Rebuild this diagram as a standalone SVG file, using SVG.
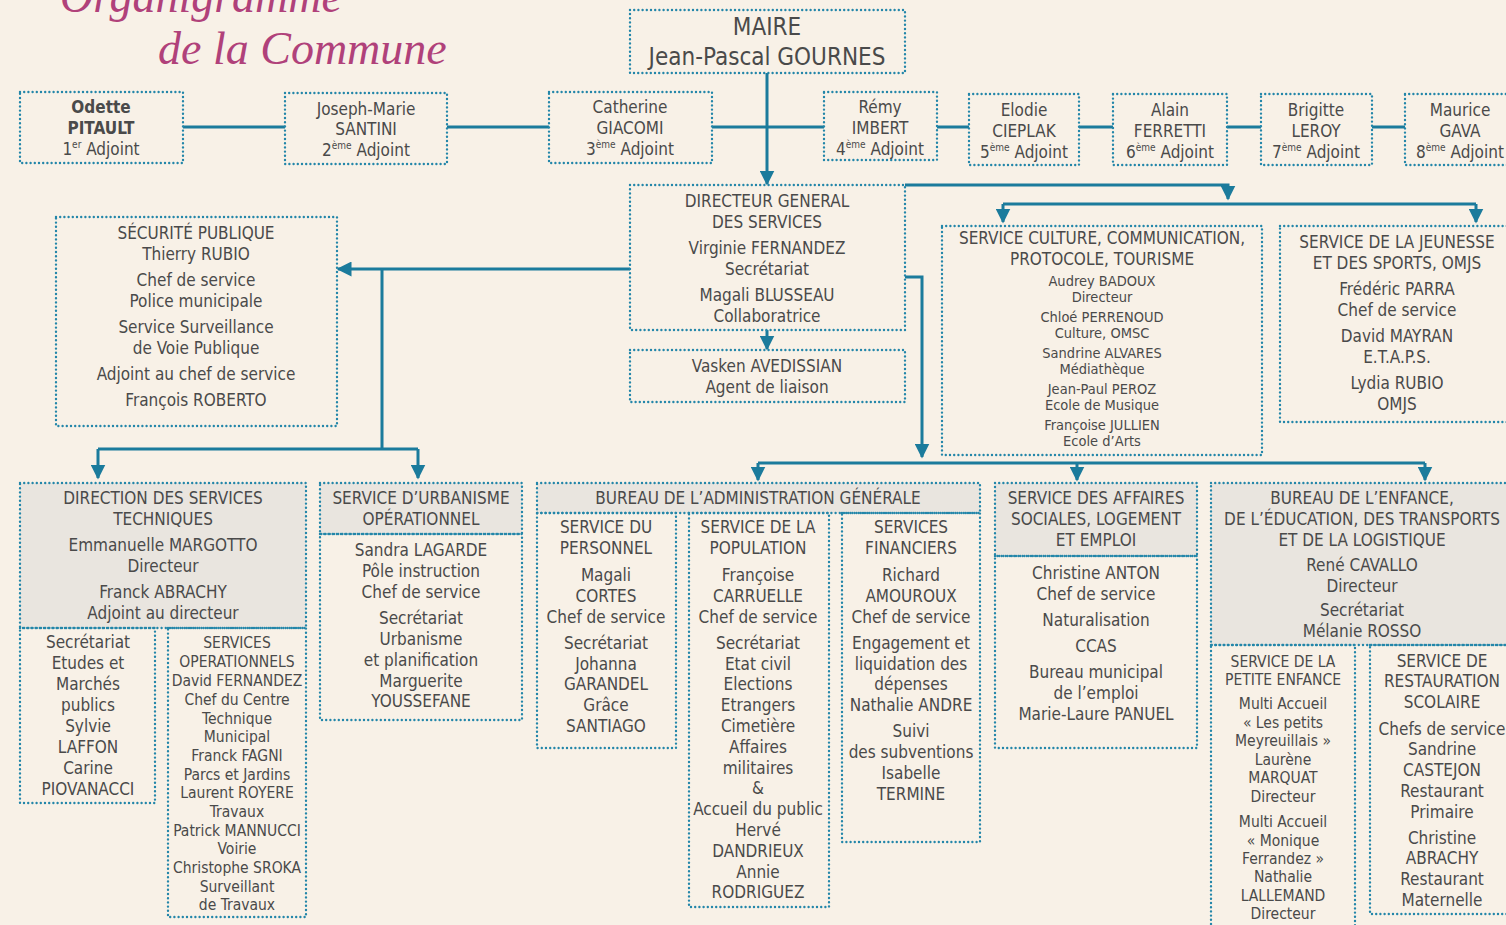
<svg xmlns="http://www.w3.org/2000/svg" width="1506" height="925" viewBox="0 0 1506 925">
<style>
.bg{fill:#f8f1e7}
.n{fill:none;stroke:#2386a9;stroke-width:2.4;stroke-dasharray:0 4.2;stroke-linecap:round}
.g{fill:#e9e5df}
.t{font-family:"Liberation Sans Narrow","DejaVu Sans Condensed","Liberation Sans",sans-serif;font-size:17px;fill:#4a4a4a;text-anchor:middle}
.s{font-size:15.5px}
.cs{font-size:14.5px}
.b{font-weight:bold}
.big{font-size:24px}
.sup{font-size:10px}
.c{fill:none;stroke:#1b7b9c;stroke-width:3}
.ttl{font-family:"Liberation Serif",serif;font-style:italic;font-size:46px;fill:#b0417a}
</style>
<defs>
<marker id="ah" viewBox="0 0 10 10" refX="9" refY="5" markerWidth="15" markerHeight="15" markerUnits="userSpaceOnUse" orient="auto">
<path d="M0,0 L10,5 L0,10 z" fill="#1b7b9c"/>
</marker>
</defs>
<rect class="bg" x="0" y="0" width="1506" height="925"/>

<g id="title">
<text class="ttl" x="60" y="12">Organigramme</text>
<text class="ttl" x="158" y="64">de la Commune</text>
</g>

<g id="connectors">
<path class="c" d="M183,127 H285 M447,127 H549 M712,127 H824 M937,127 H969 M1079,127 H1113 M1227,127 H1261 M1372,127 H1405"/>
<path class="c" d="M767,73 V184" marker-end="url(#ah)"/>
<path class="c" d="M767,330 V349" marker-end="url(#ah)"/>
<path class="c" d="M630,269 H338" marker-end="url(#ah)"/>
<path class="c" d="M382,269 V449 M98,449 H418"/>
<path class="c" d="M98,449 V478" marker-end="url(#ah)"/>
<path class="c" d="M418,449 V478" marker-end="url(#ah)"/>
<path class="c" d="M905,185 H1228 V199" marker-end="url(#ah)"/>
<path class="c" d="M1003,204 H1476"/>
<path class="c" d="M1003,204 V222" marker-end="url(#ah)"/>
<path class="c" d="M1476,204 V222" marker-end="url(#ah)"/>
<path class="c" d="M905,277 H922 V457" marker-end="url(#ah)"/>
<path class="c" d="M758,463 H1425"/>
<path class="c" d="M758,463 V480" marker-end="url(#ah)"/>
<path class="c" d="M1077,463 V480" marker-end="url(#ah)"/>
<path class="c" d="M1425,463 V480" marker-end="url(#ah)"/>
</g>

<g id="maire">
<rect class="n" x="630" y="10" width="275" height="63"/>
<text class="t big" x="767" y="35">MAIRE</text>
<text class="t big" x="767" y="65">Jean-Pascal GOURNES</text>
</g>

<g id="adj1">
<rect class="n" x="20" y="92" width="163" height="71"/>
<text class="t b" x="101" y="113">Odette</text>
<text class="t b" x="101" y="134">PITAULT</text>
<text class="t" x="101" y="155">1<tspan class="sup" dy="-7">er</tspan><tspan dy="7"> Adjoint</tspan></text>
</g>
<g id="adj2">
<rect class="n" x="285" y="93" width="162" height="71"/>
<text class="t" x="366" y="115">Joseph-Marie</text>
<text class="t" x="366" y="135">SANTINI</text>
<text class="t" x="366" y="156">2<tspan class="sup" dy="-7">ème</tspan><tspan dy="7"> Adjoint</tspan></text>
</g>
<g id="adj3">
<rect class="n" x="549" y="92" width="163" height="71"/>
<text class="t" x="630" y="113">Catherine</text>
<text class="t" x="630" y="134">GIACOMI</text>
<text class="t" x="630" y="155">3<tspan class="sup" dy="-7">ème</tspan><tspan dy="7"> Adjoint</tspan></text>
</g>
<g id="adj4">
<rect class="n" x="824" y="92" width="113" height="68"/>
<text class="t" x="880" y="113">Rémy</text>
<text class="t" x="880" y="134">IMBERT</text>
<text class="t" x="880" y="155">4<tspan class="sup" dy="-7">ème</tspan><tspan dy="7"> Adjoint</tspan></text>
</g>
<g id="adj5">
<rect class="n" x="969" y="94" width="110" height="71"/>
<text class="t" x="1024" y="116">Elodie</text>
<text class="t" x="1024" y="137">CIEPLAK</text>
<text class="t" x="1024" y="158">5<tspan class="sup" dy="-7">ème</tspan><tspan dy="7"> Adjoint</tspan></text>
</g>
<g id="adj6">
<rect class="n" x="1113" y="94" width="114" height="71"/>
<text class="t" x="1170" y="116">Alain</text>
<text class="t" x="1170" y="137">FERRETTI</text>
<text class="t" x="1170" y="158">6<tspan class="sup" dy="-7">ème</tspan><tspan dy="7"> Adjoint</tspan></text>
</g>
<g id="adj7">
<rect class="n" x="1261" y="94" width="111" height="71"/>
<text class="t" x="1316" y="116">Brigitte</text>
<text class="t" x="1316" y="137">LEROY</text>
<text class="t" x="1316" y="158">7<tspan class="sup" dy="-7">ème</tspan><tspan dy="7"> Adjoint</tspan></text>
</g>
<g id="adj8">
<rect class="n" x="1405" y="94" width="110" height="71"/>
<text class="t" x="1460" y="116">Maurice</text>
<text class="t" x="1460" y="137">GAVA</text>
<text class="t" x="1460" y="158">8<tspan class="sup" dy="-7">ème</tspan><tspan dy="7"> Adjoint</tspan></text>
</g>

<g id="dgs">
<rect class="n" x="630" y="185" width="275" height="145"/>
<text class="t" x="767" y="207">DIRECTEUR GENERAL</text>
<text class="t" x="767" y="228">DES SERVICES</text>
<text class="t" x="767" y="254">Virginie FERNANDEZ</text>
<text class="t" x="767" y="275">Secrétariat</text>
<text class="t" x="767" y="301">Magali BLUSSEAU</text>
<text class="t" x="767" y="322">Collaboratrice</text>
</g>

<g id="vasken">
<rect class="n" x="630" y="350" width="275" height="52"/>
<text class="t" x="767" y="372">Vasken AVEDISSIAN</text>
<text class="t" x="767" y="393">Agent de liaison</text>
</g>

<g id="securite">
<rect class="n" x="56" y="217" width="281" height="209"/>
<text class="t" x="196" y="239">SÉCURITÉ PUBLIQUE</text>
<text class="t" x="196" y="260">Thierry RUBIO</text>
<text class="t" x="196" y="286">Chef de service</text>
<text class="t" x="196" y="307">Police municipale</text>
<text class="t" x="196" y="333">Service Surveillance</text>
<text class="t" x="196" y="354">de Voie Publique</text>
<text class="t" x="196" y="380">Adjoint au chef de service</text>
<text class="t" x="196" y="406">François ROBERTO</text>
</g>

<g id="culture">
<rect class="n" x="942" y="226" width="320" height="229"/>
<text class="t" x="1102" y="244">SERVICE CULTURE, COMMUNICATION,</text>
<text class="t" x="1102" y="265">PROTOCOLE, TOURISME</text>
<text class="t cs" x="1102" y="286">Audrey BADOUX</text>
<text class="t cs" x="1102" y="302">Directeur</text>
<text class="t cs" x="1102" y="322">Chloé PERRENOUD</text>
<text class="t cs" x="1102" y="338">Culture, OMSC</text>
<text class="t cs" x="1102" y="358">Sandrine ALVARES</text>
<text class="t cs" x="1102" y="374">Médiathèque</text>
<text class="t cs" x="1102" y="394">Jean-Paul PEROZ</text>
<text class="t cs" x="1102" y="410">Ecole de Musique</text>
<text class="t cs" x="1102" y="430">Françoise JULLIEN</text>
<text class="t cs" x="1102" y="446">Ecole d’Arts</text>
</g>

<g id="jeunesse">
<rect class="n" x="1280" y="226" width="240" height="196"/>
<text class="t" x="1397" y="248">SERVICE DE LA JEUNESSE</text>
<text class="t" x="1397" y="269">ET DES SPORTS, OMJS</text>
<text class="t" x="1397" y="295">Frédéric PARRA</text>
<text class="t" x="1397" y="316">Chef de service</text>
<text class="t" x="1397" y="342">David MAYRAN</text>
<text class="t" x="1397" y="363">E.T.A.P.S.</text>
<text class="t" x="1397" y="389">Lydia RUBIO</text>
<text class="t" x="1397" y="410">OMJS</text>
</g>

<g id="dst">
<rect class="g" x="20" y="483" width="286" height="145"/>
<rect class="n" x="20" y="483" width="286" height="145"/>
<text class="t" x="163" y="504">DIRECTION DES SERVICES</text>
<text class="t" x="163" y="525">TECHNIQUES</text>
<text class="t" x="163" y="551">Emmanuelle MARGOTTO</text>
<text class="t" x="163" y="572">Directeur</text>
<text class="t" x="163" y="598">Franck ABRACHY</text>
<text class="t" x="163" y="619">Adjoint au directeur</text>
</g>
<g id="dst-secretariat">
<rect class="n" x="20" y="628" width="135" height="175"/>
<text class="t" x="88" y="648">Secrétariat</text>
<text class="t" x="88" y="669">Etudes et</text>
<text class="t" x="88" y="690">Marchés</text>
<text class="t" x="88" y="711">publics</text>
<text class="t" x="88" y="732">Sylvie</text>
<text class="t" x="88" y="753">LAFFON</text>
<text class="t" x="88" y="774">Carine</text>
<text class="t" x="88" y="795">PIOVANACCI</text>
</g>
<g id="dst-operationnels">
<rect class="n" x="168" y="628" width="138" height="289"/>
<text class="t s" x="237" y="648">SERVICES</text>
<text class="t s" x="237" y="667">OPERATIONNELS</text>
<text class="t s" x="237" y="686">David FERNANDEZ</text>
<text class="t s" x="237" y="705">Chef du Centre</text>
<text class="t s" x="237" y="724">Technique</text>
<text class="t s" x="237" y="742">Municipal</text>
<text class="t s" x="237" y="761">Franck FAGNI</text>
<text class="t s" x="237" y="780">Parcs et Jardins</text>
<text class="t s" x="237" y="798">Laurent ROYERE</text>
<text class="t s" x="237" y="817">Travaux</text>
<text class="t s" x="237" y="836">Patrick MANNUCCI</text>
<text class="t s" x="237" y="854">Voirie</text>
<text class="t s" x="237" y="873">Christophe SROKA</text>
<text class="t s" x="237" y="892">Surveillant</text>
<text class="t s" x="237" y="910">de Travaux</text>
</g>

<g id="urbanisme">
<rect class="g" x="320" y="483" width="202" height="51"/>
<rect class="n" x="320" y="483" width="202" height="51"/>
<rect class="n" x="320" y="534" width="202" height="186"/>
<text class="t" x="421" y="504">SERVICE D’URBANISME</text>
<text class="t" x="421" y="525">OPÉRATIONNEL</text>
<text class="t" x="421" y="556">Sandra LAGARDE</text>
<text class="t" x="421" y="577">Pôle instruction</text>
<text class="t" x="421" y="598">Chef de service</text>
<text class="t" x="421" y="624">Secrétariat</text>
<text class="t" x="421" y="645">Urbanisme</text>
<text class="t" x="421" y="666">et planification</text>
<text class="t" x="421" y="687">Marguerite</text>
<text class="t" x="421" y="707">YOUSSEFANE</text>
</g>

<g id="bag">
<rect class="g" x="537" y="483" width="443" height="30"/>
<rect class="n" x="537" y="483" width="443" height="30"/>
<text class="t" x="758" y="504">BUREAU DE L’ADMINISTRATION GÉNÉRALE</text>
</g>
<g id="personnel">
<rect class="n" x="537" y="513" width="139" height="235"/>
<text class="t" x="606" y="533">SERVICE DU</text>
<text class="t" x="606" y="554">PERSONNEL</text>
<text class="t" x="606" y="581">Magali</text>
<text class="t" x="606" y="602">CORTES</text>
<text class="t" x="606" y="623">Chef de service</text>
<text class="t" x="606" y="649">Secrétariat</text>
<text class="t" x="606" y="670">Johanna</text>
<text class="t" x="606" y="690">GARANDEL</text>
<text class="t" x="606" y="711">Grâce</text>
<text class="t" x="606" y="732">SANTIAGO</text>
</g>
<g id="population">
<rect class="n" x="689" y="513" width="140" height="394"/>
<text class="t" x="758" y="533">SERVICE DE LA</text>
<text class="t" x="758" y="554">POPULATION</text>
<text class="t" x="758" y="581">Françoise</text>
<text class="t" x="758" y="602">CARRUELLE</text>
<text class="t" x="758" y="623">Chef de service</text>
<text class="t" x="758" y="649">Secrétariat</text>
<text class="t" x="758" y="670">Etat civil</text>
<text class="t" x="758" y="690">Elections</text>
<text class="t" x="758" y="711">Etrangers</text>
<text class="t" x="758" y="732">Cimetière</text>
<text class="t" x="758" y="753">Affaires</text>
<text class="t" x="758" y="774">militaires</text>
<text class="t" x="758" y="794">&amp;</text>
<text class="t" x="758" y="815">Accueil du public</text>
<text class="t" x="758" y="836">Hervé</text>
<text class="t" x="758" y="857">DANDRIEUX</text>
<text class="t" x="758" y="878">Annie</text>
<text class="t" x="758" y="898">RODRIGUEZ</text>
</g>
<g id="financiers">
<rect class="n" x="842" y="513" width="138" height="329"/>
<text class="t" x="911" y="533">SERVICES</text>
<text class="t" x="911" y="554">FINANCIERS</text>
<text class="t" x="911" y="581">Richard</text>
<text class="t" x="911" y="602">AMOUROUX</text>
<text class="t" x="911" y="623">Chef de service</text>
<text class="t" x="911" y="649">Engagement et</text>
<text class="t" x="911" y="670">liquidation des</text>
<text class="t" x="911" y="690">dépenses</text>
<text class="t" x="911" y="711">Nathalie ANDRE</text>
<text class="t" x="911" y="737">Suivi</text>
<text class="t" x="911" y="758">des subventions</text>
<text class="t" x="911" y="779">Isabelle</text>
<text class="t" x="911" y="800">TERMINE</text>
</g>

<g id="affaires">
<rect class="g" x="995" y="483" width="202" height="73"/>
<rect class="n" x="995" y="483" width="202" height="73"/>
<rect class="n" x="995" y="556" width="202" height="192"/>
<text class="t" x="1096" y="504">SERVICE DES AFFAIRES</text>
<text class="t" x="1096" y="525">SOCIALES, LOGEMENT</text>
<text class="t" x="1096" y="546">ET EMPLOI</text>
<text class="t" x="1096" y="579">Christine ANTON</text>
<text class="t" x="1096" y="600">Chef de service</text>
<text class="t" x="1096" y="626">Naturalisation</text>
<text class="t" x="1096" y="652">CCAS</text>
<text class="t" x="1096" y="678">Bureau municipal</text>
<text class="t" x="1096" y="699">de l’emploi</text>
<text class="t" x="1096" y="720">Marie-Laure PANUEL</text>
</g>

<g id="enfance">
<rect class="g" x="1211" y="483" width="310" height="162"/>
<rect class="n" x="1211" y="483" width="310" height="162"/>
<text class="t" x="1362" y="504">BUREAU DE L’ENFANCE,</text>
<text class="t" x="1362" y="525">DE L’ÉDUCATION, DES TRANSPORTS</text>
<text class="t" x="1362" y="546">ET DE LA LOGISTIQUE</text>
<text class="t" x="1362" y="571">René CAVALLO</text>
<text class="t" x="1362" y="592">Directeur</text>
<text class="t" x="1362" y="616">Secrétariat</text>
<text class="t" x="1362" y="637">Mélanie ROSSO</text>
</g>
<g id="petite-enfance">
<rect class="n" x="1211" y="645" width="144" height="300"/>
<text class="t s" x="1283" y="667">SERVICE DE LA</text>
<text class="t s" x="1283" y="685">PETITE ENFANCE</text>
<text class="t s" x="1283" y="709">Multi Accueil</text>
<text class="t s" x="1283" y="728">« Les petits</text>
<text class="t s" x="1283" y="746">Meyreuillais »</text>
<text class="t s" x="1283" y="765">Laurène</text>
<text class="t s" x="1283" y="783">MARQUAT</text>
<text class="t s" x="1283" y="802">Directeur</text>
<text class="t s" x="1283" y="827">Multi Accueil</text>
<text class="t s" x="1283" y="846">« Monique</text>
<text class="t s" x="1283" y="864">Ferrandez »</text>
<text class="t s" x="1283" y="882">Nathalie</text>
<text class="t s" x="1283" y="901">LALLEMAND</text>
<text class="t s" x="1283" y="919">Directeur</text>
</g>
<g id="restauration">
<rect class="n" x="1370" y="645" width="150" height="269"/>
<text class="t" x="1442" y="667">SERVICE DE</text>
<text class="t" x="1442" y="687">RESTAURATION</text>
<text class="t" x="1442" y="708">SCOLAIRE</text>
<text class="t" x="1442" y="735">Chefs de service</text>
<text class="t" x="1442" y="755">Sandrine</text>
<text class="t" x="1442" y="776">CASTEJON</text>
<text class="t" x="1442" y="797">Restaurant</text>
<text class="t" x="1442" y="818">Primaire</text>
<text class="t" x="1442" y="844">Christine</text>
<text class="t" x="1442" y="864">ABRACHY</text>
<text class="t" x="1442" y="885">Restaurant</text>
<text class="t" x="1442" y="906">Maternelle</text>
</g>
</svg>
